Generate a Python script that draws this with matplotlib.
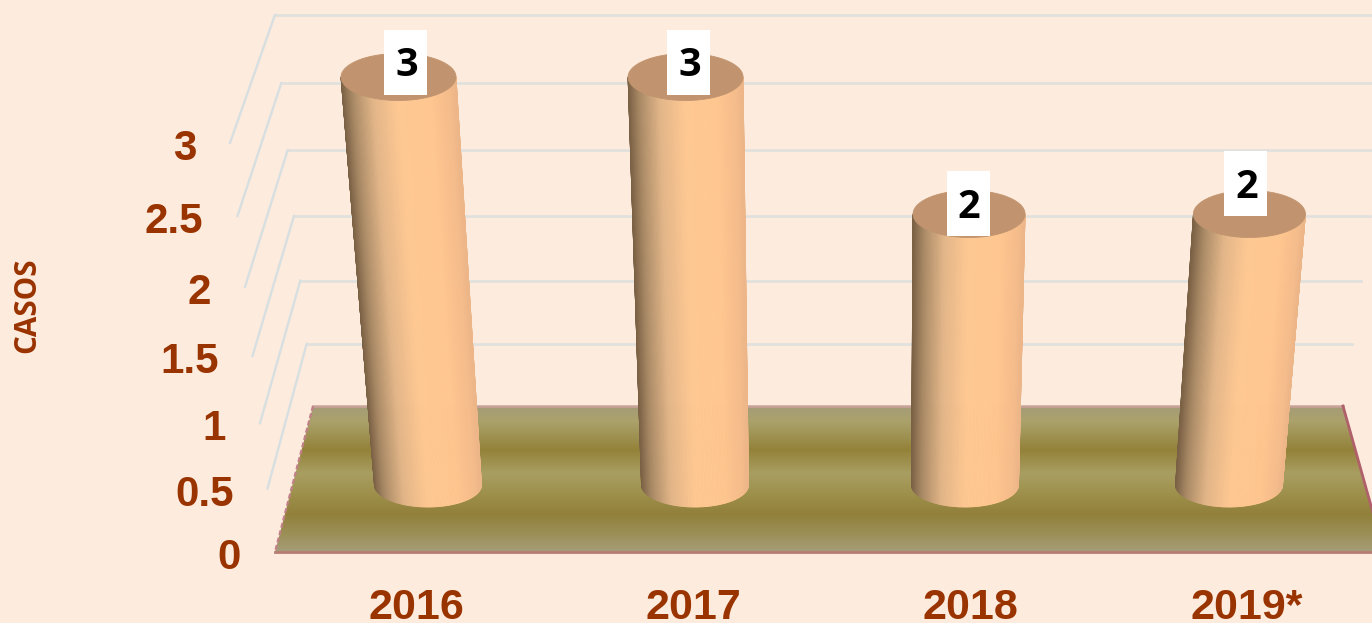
import numpy as np
import matplotlib
matplotlib.use("Agg")
import matplotlib.pyplot as plt
from matplotlib.collections import PolyCollection
from matplotlib.colors import LinearSegmentedColormap
from matplotlib.patches import Polygon, Rectangle

categories = ["2016", "2017", "2018", "2019*"]
values = [3, 3, 2, 2]
y_ticks = [0, 0.5, 1, 1.5, 2, 2.5, 3]
y_tick_labels = ["0", "0.5", "1", "1.5", "2", "2.5", "3"]
y_title = "CASOS"

BG = "#FDEBDD"
TXT = "#993300"

fig = plt.figure(figsize=(13.72, 6.23), dpi=100, facecolor=BG)
ax = fig.add_axes([0, 0, 1, 1])
ax.set_xlim(0, 1372)
ax.set_ylim(623, 0)
ax.axis("off")


# pseudo-3D scales: value -> picture position
def wall_y(v):
    return 406 - 123.0 * v - 2.44 * v * v


def wall_left(v):
    return 313 - 12.7 * v


def wall_right(v):
    return 1343 + 18 * v


def front_y(v):
    return 552 - 125.0 * v - 3.78 * v * v


def front_x(v):
    return 275 - 15 * v


def bar_top_y(v):
    return 485 - 134.5 * v - 0.5 * v * v


def bar_x(i, v):
    base = 428 + 267 * i
    return 821 + (base - 821) * (1 + 0.025 * v)


# gridlines (back wall + side wall)
for v in y_ticks[1:]:
    ax.plot([wall_left(v), wall_right(v)], [wall_y(v), wall_y(v)],
            color="#E0E0DD", lw=1.9, zorder=1)
    ax.plot([front_x(v), wall_left(v)], [front_y(v), wall_y(v)],
            color="#D8DFE1", lw=1.7, zorder=1.1)

# floor
floor_xy = [(wall_left(0), wall_y(0)), (wall_right(0), wall_y(0)),
            (1384, front_y(0)), (front_x(0), front_y(0))]
floor_stops = [(0.00, "#A59B78"), (0.10, "#ABA26C"), (0.30, "#938239"),
               (0.46, "#A99E62"), (0.60, "#9E914C"), (0.74, "#91803B"),
               (0.88, "#9C9058"), (1.00, "#A69D7A")]
floor_cmap = LinearSegmentedColormap.from_list("floor", floor_stops)
clip = Polygon(floor_xy, closed=True, transform=ax.transData, fc="none", ec="none")
ax.add_patch(clip)
im = ax.imshow(np.linspace(0, 1, 256)[:, None], cmap=floor_cmap, aspect="auto",
               extent=(250, 1400, front_y(0), wall_y(0)), zorder=2, interpolation="bilinear")
im.set_clip_path(clip)
ax.set_xlim(0, 1372)
ax.set_ylim(623, 0)
ax.plot([floor_xy[0][0], floor_xy[1][0]], [floor_xy[0][1]] * 2, color="#C9A39A", lw=1.8, zorder=2.5)
ax.plot([floor_xy[1][0], floor_xy[2][0]], [floor_xy[1][1], floor_xy[2][1]], color="#B0606A", lw=2.0, zorder=2.5)
ax.plot([floor_xy[3][0], floor_xy[2][0]], [floor_xy[3][1]] * 2, color="#B87C74", lw=2.0, zorder=2.5)
ax.plot([floor_xy[0][0], floor_xy[3][0]], [floor_xy[0][1], floor_xy[3][1]], color="#C08088", lw=1.6,
        ls=(0, (2.2, 1.2)), zorder=2.5)

# cylinders
shade_stops = [(0.00, "#7A6044"), (0.10, "#A98A66"), (0.28, "#E2B588"),
               (0.50, "#FFC892"), (0.78, "#FFC690"), (0.93, "#F6BD8C"), (1.00, "#EDB688")]
shade = LinearSegmentedColormap.from_list("shade", shade_stops)
box_dx = [7, 3, -1, -4]
box_dy = [-15, -15, -11, -31]
base_nudge = [0, 0, 3, 0]
N = 120
for i, v in enumerate(values):
    xb, yb = bar_x(i, 0) + base_nudge[i], bar_top_y(0)
    xt, yt = bar_x(i, v), bar_top_y(v)
    rb, rt = 53.5, 53 + 1.5 * v
    ryb, ryt = 22, 23.5
    th = np.linspace(np.pi, 0, N + 1)
    polys, cols = [], []
    for k in range(N):
        a, b = th[k], th[k + 1]
        polys.append([(xt + rt * np.cos(a), yt + ryt * np.sin(a)),
                      (xt + rt * np.cos(b), yt + ryt * np.sin(b)),
                      (xb + rb * np.cos(b), yb + ryb * np.sin(b)),
                      (xb + rb * np.cos(a), yb + ryb * np.sin(a))])
        cols.append(shade((np.cos(a) + np.cos(b)) / 4 + 0.5))
    ax.add_collection(PolyCollection(polys, facecolors=cols, edgecolors=cols,
                                     linewidths=0.6, zorder=3 + i))
    t = np.linspace(0, 2 * np.pi, 121)
    ax.add_patch(Polygon(np.c_[xt + rt * np.cos(t), yt + ryt * np.sin(t)], closed=True,
                         fc="#C1946F", ec="#C1946F", lw=0.6, zorder=3.5 + i))
    # value label box
    cx, cy = xt + box_dx[i], yt + box_dy[i]
    ax.add_patch(Rectangle((cx - 21.5, cy - 32.5), 43, 65, fc="white", ec="none", zorder=8))
    ax.text(cx + 1, cy + 14.5, str(v), family="Open Sans", weight="bold", fontsize=28.5,
            color="black", ha="center", va="baseline", zorder=9)

# axis text
for v, lab in zip(y_ticks, y_tick_labels):
    ax.text(front_x(v) - 34, front_y(v) + 17, lab, family="Liberation Sans", weight="bold",
            fontsize=30.3, color=TXT, ha="right", va="baseline")
for i, c in enumerate(categories):
    ax.text(416 + 277 * i, 619, c, family="Liberation Sans", weight="bold",
            fontsize=31, color=TXT, ha="center", va="baseline")
ax.text(27.5, 305, y_title, family="Open Sans", weight="bold", fontsize=21.3, color=TXT,
        rotation=90, ha="center", va="center")

fig.savefig("out.png", dpi=100, facecolor=BG)
